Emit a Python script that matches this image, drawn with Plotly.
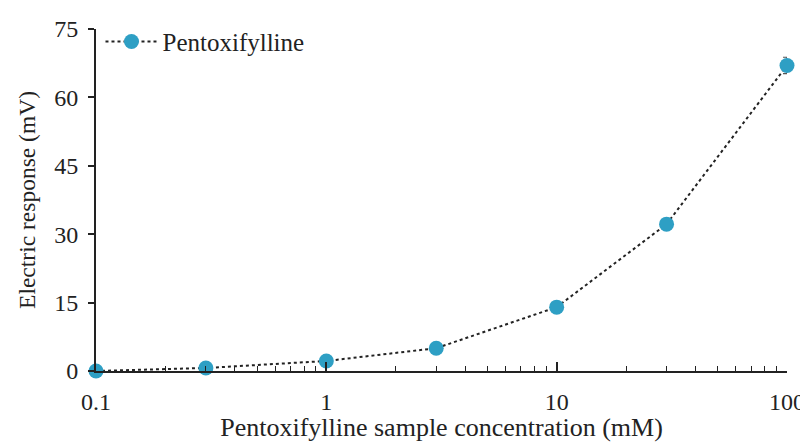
import plotly.graph_objects as go

concentration = [0.1, 0.3, 1, 3, 10, 30, 100]
response = [0.0, 0.66, 2.2, 5.0, 14.0, 32.2, 67.0]
error = [0.0, 0.0, 0.0, 0.0, 0.0, 0.0, 1.8]
x_tick_vals = [0.1, 1, 10, 100]
x_tick_text = ["0.1", "1", "10", "100"]
y_tick_vals = [0, 15, 30, 45, 60, 75]

font_family = "Liberation Serif, Times New Roman, serif"

fig = go.Figure()
fig.add_trace(go.Scatter(
    x=concentration, y=response,
    mode="lines+markers",
    name="Pentoxifylline",
    line=dict(color="#222222", width=2, dash="dot"),
    marker=dict(color="#2e9fc4", size=15),
    error_y=dict(type="data", array=error, visible=True, color="#555555", thickness=1.2, width=4),
    cliponaxis=False,
))

fig.update_layout(
    width=800, height=434,
    margin=dict(l=88, r=21, t=21, b=71, autoexpand=False),
    paper_bgcolor="white", plot_bgcolor="white",
    font=dict(family=font_family, size=24, color="#222222"),
    showlegend=True,
    legend=dict(x=0.0065, y=1.03, xanchor="left", yanchor="top",
                bgcolor="rgba(0,0,0,0)", font=dict(size=25), itemwidth=52,
                tracegroupgap=0),
    xaxis=dict(
        type="log", range=[-1, 2], automargin=False,
        tickvals=x_tick_vals, ticktext=x_tick_text,
        ticks="inside", ticklen=9, tickwidth=1.5, tickcolor="#222222",
        ticklabelstandoff=8,
        showline=True, linecolor="#222222", linewidth=2,
        showgrid=False, zeroline=False,
        minor=dict(ticks="inside", ticklen=5, tickwidth=1.2, tickcolor="#222222", dtick="D1", showgrid=False),
        title=dict(text="Pentoxifylline sample concentration (mM)", standoff=2, font=dict(size=26)),
        tickfont=dict(size=24),
    ),
    yaxis=dict(
        range=[0, 75], tickvals=y_tick_vals, automargin=False,
        ticks="outside", ticklen=6, tickwidth=1.5, tickcolor="#222222",
        ticklabelstandoff=5,
        showline=True, linecolor="#222222", linewidth=2,
        showgrid=False, zeroline=False,
        title=dict(text="Electric response (mV)", standoff=12, font=dict(size=23.5)),
        tickfont=dict(size=24),
    ),
)

fig.write_html("out.html")
